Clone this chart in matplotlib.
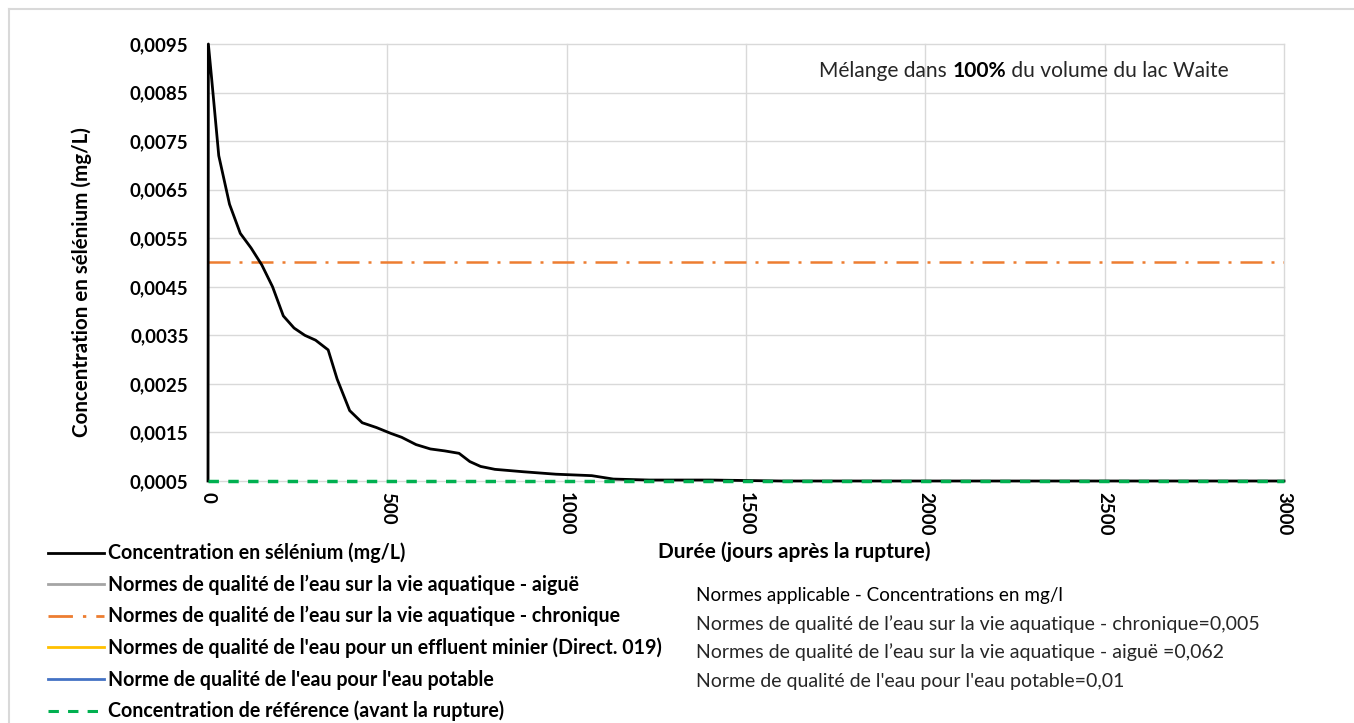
import matplotlib
matplotlib.use("Agg")
import matplotlib.pyplot as plt
from matplotlib.lines import Line2D

plt.rcParams['font.family'] = ['Lato', 'DejaVu Sans']

# Selenium concentration after the dam break (days, mg/L)
days = [0, 1, 10, 20, 30, 60, 90, 120, 150, 180, 210, 240, 270, 300, 335,
        360, 395, 430, 470, 510, 540, 580, 620, 660, 700, 730, 760, 800,
        880, 970, 1070, 1130, 1230, 1400, 1600, 2000, 2500, 3000]
selenium = [0.0005, 0.0095, 0.0088, 0.0080, 0.0072, 0.0062, 0.0056, 0.0053,
            0.00495, 0.0045, 0.0039, 0.00365, 0.0035, 0.0034, 0.0032,
            0.0026, 0.00195, 0.0017, 0.0016, 0.00148, 0.0014, 0.00125,
            0.00116, 0.00112, 0.00107, 0.0009, 0.0008, 0.00074, 0.00069,
            0.00064, 0.00061, 0.00054, 0.00052, 0.00052, 0.0005, 0.0005,
            0.0005, 0.0005]

# Water-quality criteria (mg/L)
norme_aigue = 0.062
norme_chronique = 0.005
norme_potable = 0.01
conc_reference = 0.0005

x_range = [0, 3000]
y_ticks = [0.0005, 0.0015, 0.0025, 0.0035, 0.0045, 0.0055, 0.0065, 0.0075,
           0.0085, 0.0095]
y_tick_labels = ['0,0005', '0,0015', '0,0025', '0,0035', '0,0045', '0,0055',
                 '0,0065', '0,0075', '0,0085', '0,0095']
x_ticks = [0, 500, 1000, 1500, 2000, 2500, 3000]

W, H = 1354, 723
fig = plt.figure(figsize=(W / 100, H / 100), dpi=100)
ax = fig.add_axes([208 / W, 1 - 481 / H, (1284 - 208) / W, (481 - 44) / H])

grid_c = '#D9D9D9'
for yt in y_ticks:
    ax.axhline(yt, color=grid_c, lw=1.0, zorder=0, clip_on=False)
for xt in x_ticks:
    ax.axvline(xt, color=grid_c, lw=1.0, zorder=0, clip_on=False)

chron_style = (0, (8.8, 3.6, 1.2, 3.6))
ref_style = (0, (3.0, 2.7))

ax.plot(days, selenium, color='black', lw=2.0, zorder=3,
        solid_joinstyle='round', clip_on=False)
ax.plot(x_range, [norme_aigue] * 2, color='#A5A5A5', lw=1.8, zorder=2)
ax.plot(x_range, [norme_chronique] * 2, color='#ED7D31', lw=1.8,
        linestyle=chron_style, dash_capstyle='butt', zorder=2)
ax.plot(x_range, [norme_potable] * 2, color='#4472C4', lw=1.8, zorder=2)
ax.plot(x_range, [conc_reference] * 2, color='#00B050', lw=2.5,
        linestyle=ref_style, dash_capstyle='butt', zorder=4, clip_on=False)

ax.set_xlim(x_range)
ax.set_ylim(y_ticks[0], y_ticks[-1])
for s in ax.spines.values():
    s.set_visible(False)
ax.set_yticks(y_ticks)
ax.set_yticklabels(y_tick_labels, fontsize=13.5, fontweight='bold')
ax.set_xticks(x_ticks)
ax.set_xticklabels([str(v) for v in x_ticks], fontsize=13.5,
                   fontweight='bold', rotation=-90)
ax.tick_params(length=0, pad=14, colors='black')
ax.tick_params(axis='x', pad=8)

fig.text(82 / W, 1 - 282 / H, 'Concentration en sélénium (mg/L)',
         rotation=90, ha='center', va='center', fontsize=14.8,
         fontweight='bold')
fig.text(658 / W, 1 - 552 / H, 'Durée (jours après la rupture)',
         ha='left', va='center', fontsize=15, fontweight='bold')

# Caption in the upper-right corner with a bold part
cap_y = 1 - 71 / H
t1 = fig.text(819 / W, cap_y, 'Mélange dans ', fontsize=15.1,
              ha='left', va='center', color='#262626')
t2 = fig.text(0, 0, '100%', fontsize=15.1, fontweight='bold',
              ha='left', va='center', color='black')
t3 = fig.text(0, 0, ' du volume du lac Waite', fontsize=15.1,
              ha='left', va='center', color='#262626')
fig.canvas.draw()
r = fig.canvas.get_renderer()
bb = t1.get_window_extent(r)
t2.set_position((bb.x1 / W, cap_y))
bb = t2.get_window_extent(r)
t3.set_position((bb.x1 / W, cap_y))

# Legend
handles = [
    Line2D([], [], color='black', lw=2.0),
    Line2D([], [], color='#A5A5A5', lw=2.0),
    Line2D([], [], color='#ED7D31', lw=2.0, linestyle=chron_style),
    Line2D([], [], color='#FFC000', lw=2.0),
    Line2D([], [], color='#4472C4', lw=2.0),
    Line2D([], [], color='#00B050', lw=2.2, linestyle=(0, (3.4, 3.0))),
]
labels = [
    'Concentration en sélénium (mg/L)',
    'Normes de qualité de l’eau sur la vie aquatique - aiguë',
    'Normes de qualité de l’eau sur la vie aquatique - chronique',
    "Normes de qualité de l'eau pour un effluent minier (Direct. 019)",
    "Norme de qualité de l'eau pour l'eau potable",
    'Concentration de référence (avant la rupture)',
]
fig.legend(handles, labels, loc='upper left',
           bbox_to_anchor=(40 / W, 1 - 535 / H), frameon=False,
           prop={'size': 14.1, 'weight': 'bold'}, handlelength=2.86,
           handletextpad=0.2, labelspacing=0.575, borderaxespad=0)

# Applicable criteria block
notes = [
    'Normes de qualité de l’eau sur la vie aquatique - chronique=0,005',
    'Normes de qualité de l’eau sur la vie aquatique - aiguë =0,062',
    "Norme de qualité de l'eau pour l'eau potable=0,01",
]
fig.text(696 / W, 1 - 595 / H, 'Normes applicable - Concentrations en mg/l',
         fontsize=13.6, ha='left', va='center', color='black')
for i, n in enumerate(notes):
    fig.text(696 / W, 1 - (624 + 28.5 * i) / H, n, fontsize=14,
             ha='left', va='center', color='#262626')

# Outer frame
fig.add_artist(Line2D([9 / W, 1], [1 - 9 / H] * 2, color=grid_c, lw=1.5,
                      transform=fig.transFigure))
fig.add_artist(Line2D([9 / W] * 2, [0, 1 - 9 / H], color=grid_c, lw=1.5,
                      transform=fig.transFigure))

fig.savefig('out.png', dpi=100)
